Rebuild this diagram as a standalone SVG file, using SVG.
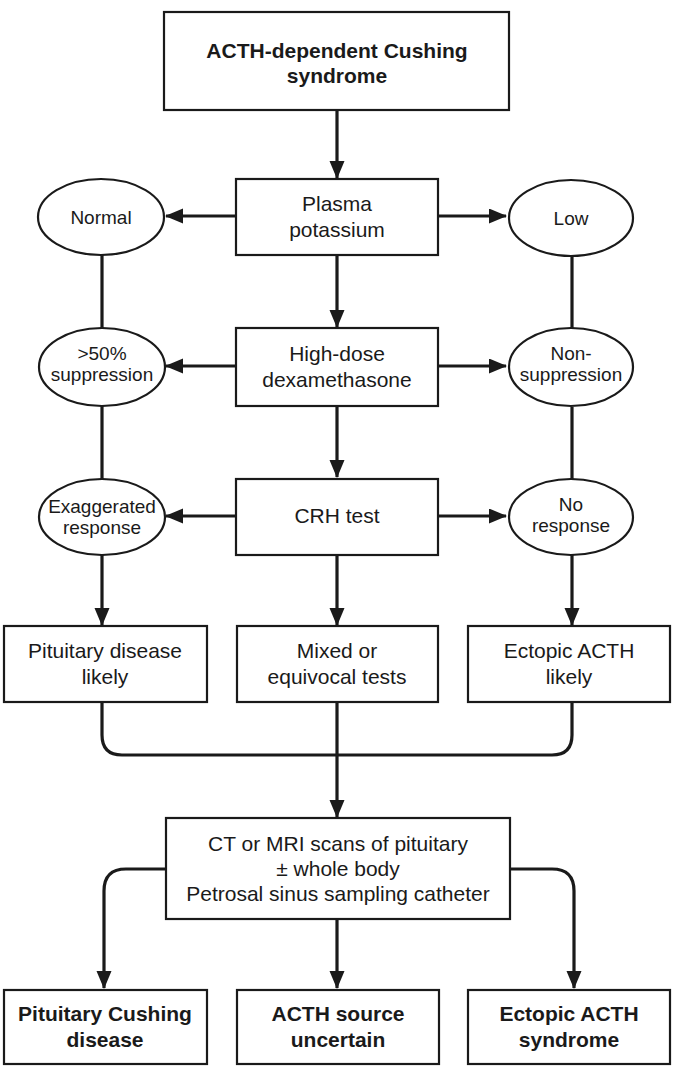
<svg xmlns="http://www.w3.org/2000/svg" width="678" height="1068" viewBox="0 0 678 1068">
<style>
.box{fill:#fff;stroke:#1a1a1a;stroke-width:2.2}
.t{font-family:"Liberation Sans",Arial,sans-serif;font-size:21px;fill:#1a1a1a;text-anchor:middle}
.b{font-weight:bold}
.e{font-size:19px}
.c{fill:none;stroke:#1a1a1a;stroke-width:3.2}
</style>
<defs>
<marker id="ah" markerUnits="userSpaceOnUse" markerWidth="18" markerHeight="16" refX="17" refY="7.5" orient="auto">
<path d="M0,0 L18,7.5 L0,15 z" fill="#1a1a1a"/>
</marker>
</defs>
<rect width="678" height="1068" fill="#fff"/>
<g id="connectors">
<path class="c" d="M337,110 V178" marker-end="url(#ah)"/>
<path class="c" d="M236,216 H166" marker-end="url(#ah)"/>
<path class="c" d="M438,216 H506" marker-end="url(#ah)"/>
<path class="c" d="M337,255 V327" marker-end="url(#ah)"/>
<path class="c" d="M102,255 V328"/>
<path class="c" d="M572,256 V328"/>
<path class="c" d="M236,366 H166" marker-end="url(#ah)"/>
<path class="c" d="M438,366 H506" marker-end="url(#ah)"/>
<path class="c" d="M337,406 V477" marker-end="url(#ah)"/>
<path class="c" d="M102,406 V479"/>
<path class="c" d="M572,407 V479"/>
<path class="c" d="M236,516 H166" marker-end="url(#ah)"/>
<path class="c" d="M438,516 H506" marker-end="url(#ah)"/>
<path class="c" d="M337,555 V625" marker-end="url(#ah)"/>
<path class="c" d="M102,554 V625" marker-end="url(#ah)"/>
<path class="c" d="M572,555 V625" marker-end="url(#ah)"/>
<path class="c" d="M102,702 V735 Q102,755 122,755 H552 Q572,755 572,735 V702"/>
<path class="c" d="M337,702 V817" marker-end="url(#ah)"/>
<path class="c" d="M166,869 H126 Q104,869 104,891 V988" marker-end="url(#ah)"/>
<path class="c" d="M510,869 H552 Q574,869 574,891 V988" marker-end="url(#ah)"/>
<path class="c" d="M337,919 V988" marker-end="url(#ah)"/>
</g>
<g id="n-acth">
<rect class="box" x="164" y="12" width="345" height="98"/>
<text class="t b" x="337" y="58">ACTH-dependent Cushing</text>
<text class="t b" x="337" y="83">syndrome</text>
</g>
<g id="n-plasma">
<rect class="box" x="236" y="179" width="202" height="76"/>
<text class="t" x="337" y="211">Plasma</text>
<text class="t" x="337" y="237">potassium</text>
</g>
<g id="n-normal">
<ellipse class="box" cx="101" cy="217" rx="63" ry="38"/>
<text class="t e" x="101" y="224">Normal</text>
</g>
<g id="n-low">
<ellipse class="box" cx="571" cy="218" rx="62" ry="38"/>
<text class="t e" x="571" y="225">Low</text>
</g>
<g id="n-dexa">
<rect class="box" x="236" y="328" width="202" height="78"/>
<text class="t" x="337" y="361">High-dose</text>
<text class="t" x="337" y="387">dexamethasone</text>
</g>
<g id="n-supp">
<ellipse class="box" cx="102" cy="367" rx="63" ry="39"/>
<text class="t e" x="102" y="360">&gt;50%</text>
<text class="t e" x="102" y="381">suppression</text>
</g>
<g id="n-nonsupp">
<ellipse class="box" cx="571" cy="367" rx="62" ry="39"/>
<text class="t e" x="571" y="360">Non-</text>
<text class="t e" x="571" y="381">suppression</text>
</g>
<g id="n-crh">
<rect class="box" x="236" y="479" width="202" height="76"/>
<text class="t" x="337" y="523">CRH test</text>
</g>
<g id="n-exag">
<ellipse class="box" cx="102" cy="517" rx="63" ry="38"/>
<text class="t e" x="102" y="513">Exaggerated</text>
<text class="t e" x="102" y="534">response</text>
</g>
<g id="n-nores">
<ellipse class="box" cx="571" cy="517" rx="62" ry="38"/>
<text class="t e" x="571" y="511">No</text>
<text class="t e" x="571" y="532">response</text>
</g>
<g id="n-pitlikely">
<rect class="box" x="4" y="626" width="203" height="76"/>
<text class="t" x="105" y="658">Pituitary disease</text>
<text class="t" x="105" y="684">likely</text>
</g>
<g id="n-mixed">
<rect class="box" x="237" y="626" width="201" height="76"/>
<text class="t" x="337" y="658">Mixed or</text>
<text class="t" x="337" y="684">equivocal tests</text>
</g>
<g id="n-ectlikely">
<rect class="box" x="468" y="626" width="202" height="76"/>
<text class="t" x="569" y="658">Ectopic ACTH</text>
<text class="t" x="569" y="684">likely</text>
</g>
<g id="n-ct">
<rect class="box" x="166" y="818" width="344" height="101"/>
<text class="t" x="338" y="851">CT or MRI scans of pituitary</text>
<text class="t" x="338" y="876">± whole body</text>
<text class="t" x="338" y="901">Petrosal sinus sampling catheter</text>
</g>
<g id="n-pitcush">
<rect class="box" x="4" y="990" width="203" height="74"/>
<text class="t b" x="105" y="1021">Pituitary Cushing</text>
<text class="t b" x="105" y="1047">disease</text>
</g>
<g id="n-uncertain">
<rect class="box" x="237" y="990" width="202" height="74"/>
<text class="t b" x="338" y="1021">ACTH source</text>
<text class="t b" x="338" y="1047">uncertain</text>
</g>
<g id="n-ectsyn">
<rect class="box" x="468" y="990" width="202" height="74"/>
<text class="t b" x="569" y="1021">Ectopic ACTH</text>
<text class="t b" x="569" y="1047">syndrome</text>
</g>
</svg>
